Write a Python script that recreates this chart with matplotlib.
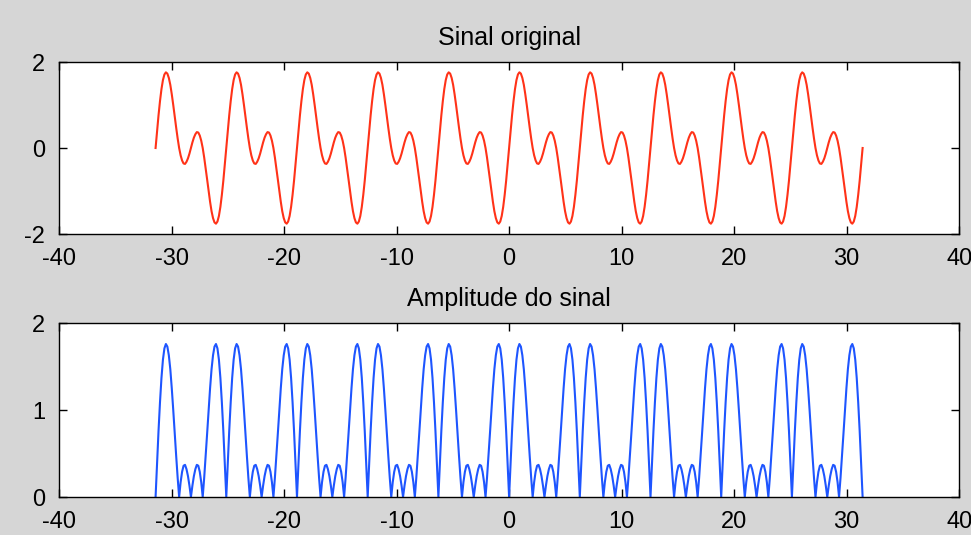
import numpy as np
import matplotlib
matplotlib.use("Agg")
import matplotlib.pyplot as plt

# one period of the signal (48 samples per period)
sinal_periodo = [
    0.00, 0.39, 0.76, 1.09, 1.37, 1.58, 1.71, 1.76, 1.73, 1.63, 1.47, 1.25,
    1.00, 0.73, 0.47, 0.22, 0.00, -0.17, -0.29, -0.36, -0.37, -0.32, -0.24, -0.13,
    0.00, 0.13, 0.24, 0.32, 0.37, 0.36, 0.29, 0.17, 0.00, -0.22, -0.47, -0.73,
    -1.00, -1.25, -1.47, -1.63, -1.73, -1.76, -1.71, -1.58, -1.37, -1.09, -0.76, -0.39,
]

# one period of the amplitude
amplitude_periodo = [
    0.00, 0.39, 0.76, 1.09, 1.37, 1.58, 1.71, 1.76, 1.73, 1.63, 1.47, 1.25,
    1.00, 0.73, 0.47, 0.22, 0.00, 0.17, 0.29, 0.36, 0.37, 0.32, 0.24, 0.13,
    0.00, 0.13, 0.24, 0.32, 0.37, 0.36, 0.29, 0.17, 0.00, 0.22, 0.47, 0.73,
    1.00, 1.25, 1.47, 1.63, 1.73, 1.76, 1.71, 1.58, 1.37, 1.09, 0.76, 0.39,
]

n_periodos = 10
t_inicio, t_fim = -31.42, 31.42

sinal = np.concatenate([np.tile(sinal_periodo, n_periodos), [0.0]])
amplitude = np.concatenate([np.tile(amplitude_periodo, n_periodos), [0.0]])
t = np.linspace(t_inicio, t_fim, len(sinal))

x_ticks = [-40, -30, -20, -10, 0, 10, 20, 30, 40]

plt.rcParams["font.family"] = ["Liberation Sans", "DejaVu Sans"]
plt.rcParams["axes.unicode_minus"] = False

fig = plt.figure(figsize=(9.71, 5.35), dpi=100)
fig.patch.set_facecolor("#d6d6d6")

ax1 = fig.add_axes([0.0608, 0.5626, 0.927, 0.3215])
ax2 = fig.add_axes([0.0608, 0.071, 0.927, 0.325])

ax1.plot(t, sinal, color="#ff3218", linewidth=1.5)
ax1.set_xlim(-40, 40)
ax1.set_ylim(-2, 2)
ax1.set_yticks([-2, 0, 2])
ax1.set_title("Sinal original", fontsize=18, pad=12)

ax2.plot(t, amplitude, color="#1e55ff", linewidth=1.5)
ax2.set_xlim(-40, 40)
ax2.set_ylim(0, 2)
ax2.set_yticks([0, 1, 2])
ax2.set_title("Amplitude do sinal", fontsize=18, pad=12)

for ax in (ax1, ax2):
    ax.set_xticks(x_ticks)
    ax.tick_params(direction="in", length=6, width=1, labelsize=17,
                   top=True, right=True)
    ax.tick_params(axis="x", pad=10)
    ax.tick_params(axis="y", pad=10)
    for s in ax.spines.values():
        s.set_linewidth(1)
        s.set_color("black")

fig.savefig("out.png", dpi=100, facecolor=fig.get_facecolor())
